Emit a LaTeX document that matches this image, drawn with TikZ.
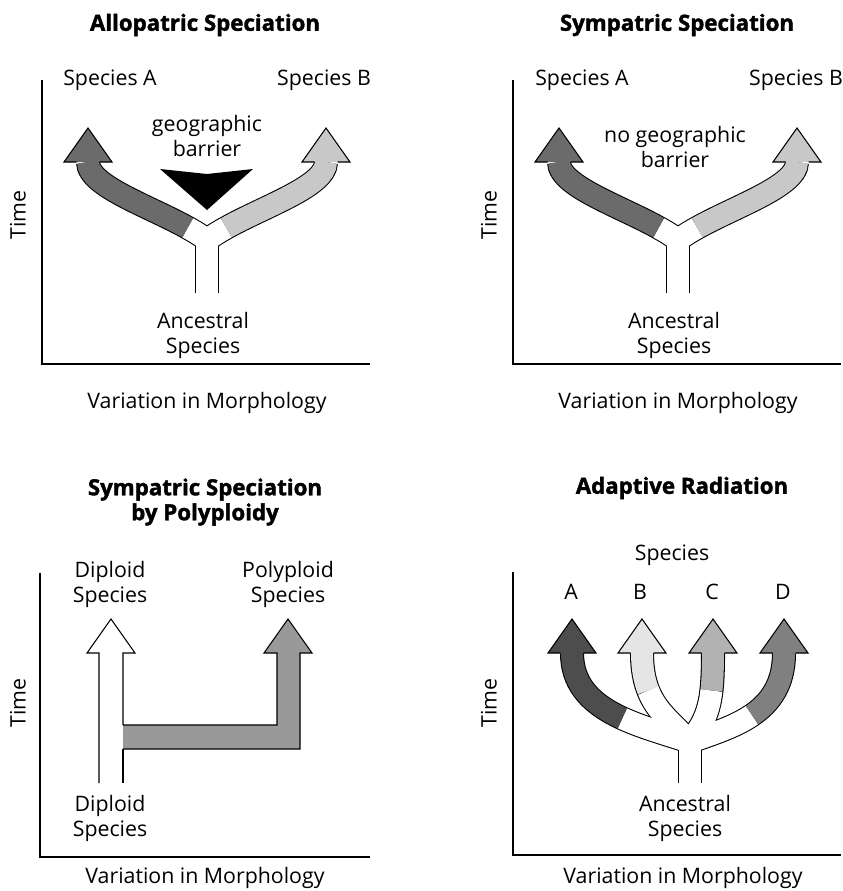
\documentclass[tikz,border=0pt]{standalone}
\usepackage{fontspec}
\setmainfont{Open Sans}
\newfontfamily\titlefont{Open Sans}[BoldFeatures={FakeBold=1.6}]
\usetikzlibrary{calc, positioning}

\definecolor{darkA}{HTML}{6B6B6B}
\definecolor{lightB}{HTML}{C8C8C8}
\definecolor{polyG}{HTML}{999999}
\definecolor{radA}{HTML}{4D4D4D}
\definecolor{radB}{HTML}{E5E5E5}
\definecolor{radC}{HTML}{B2B2B2}
\definecolor{radD}{HTML}{808080}

\tikzstyle{axis}  = [line width=0.9pt]
\tikzstyle{label} = [align=center, inner sep=0pt, font=\fontsize{18.2}{21.3}\selectfont]
\tikzstyle{title} = [align=center, inner sep=0pt, font=\titlefont\bfseries\fontsize{19}{21.3}\selectfont]
\tikzstyle{rim}   = [line width=0.69cm+0.9pt]
\tikzstyle{core}  = [line width=0.69cm-0.9pt, white]
\tikzstyle{head}  = [line width=0.9pt, line join=miter]

% white part up to t, coloured part after it
\newcommand{\splitcore}[6]{%
  \coordinate (q0) at ($(#1)!#5!(#2)$);
  \coordinate (q1) at ($(#2)!#5!(#3)$);
  \coordinate (q2) at ($(#3)!#5!(#4)$);
  \coordinate (r0) at ($(q0)!#5!(q1)$);
  \coordinate (r1) at ($(q1)!#5!(q2)$);
  \coordinate (s0) at ($(r0)!#5!(r1)$);
  \draw[core] (#1) .. controls (q0) and (r0) .. (s0);
  \draw[core, draw=#6] (s0) .. controls (r1) and (q2) .. (#4);
}
\newcommand{\arrowtop}[2]{\draw[head, fill=#2, shift={(#1)}] (-11.5,0) -- (-24,0) -- (0,-34) -- (24,0) -- (11.5,0);}

\begin{document}
\begin{tikzpicture}[x=0.03cm, y=-0.03cm]
\useasboundingbox (0,0) rectangle (843,891);

% ---- allopatric
\node[title] (T1) at (205,25) {Allopatric Speciation};
\coordinate (Y1) at (42,80);
\coordinate (O1) at (42,364);
\coordinate (X1) at (370,364);
\draw[axis] (Y1) -- (O1) -- (X1);
\node[label, rotate=90] (time1) at (18,215) {Time};
\node[label] (var1) at (207,403) {Variation in Morphology};
\node[label] (sa1) at (110,80) {Species A};
\node[label] (sb1) at (324,80) {Species B};
\node[label] (anc1) at (203,335) {Ancestral\\Species};
\node[label] (bar1) at (207,136) {geographic\\barrier};
\fill (160,169) -- (207,174) -- (253,169) -- (207,210) -- cycle;

\coordinate (t1) at (207,293);
\coordinate (j1) at (207,240);
\coordinate (la1) at (170,212);
\coordinate (lb1) at (88,190);
\coordinate (lc1) at (88,162);
\coordinate (ra1) at (244,212);
\coordinate (rb1) at (326,190);
\coordinate (rc1) at (326,162);

% ---- sympatric
\node[title] (T2) at (677,25) {Sympatric Speciation};
\coordinate (Y2) at (513,80);
\coordinate (O2) at (513,364);
\coordinate (X2) at (841,364);
\draw[axis] (Y2) -- (O2) -- (X2);
\node[label, rotate=90] (time2) at (489,215) {Time};
\node[label] (var2) at (678,403) {Variation in Morphology};
\node[label] (sa2) at (582,80) {Species A};
\node[label] (sb2) at (796,80) {Species B};
\node[label] (anc2) at (674,335) {Ancestral\\Species};
\node[label] (bar2) at (675,147) {no geographic\\barrier};

\coordinate (t2) at (678,293);
\coordinate (j2) at (678,240);
\coordinate (la2) at (641,212);
\coordinate (lb2) at (559,190);
\coordinate (lc2) at (559,162);
\coordinate (ra2) at (715,212);
\coordinate (rb2) at (797,190);
\coordinate (rc2) at (797,162);

% ---- polyploidy
\node[title] (T3) at (205,502) {Sympatric Speciation\\by Polyploidy};
\coordinate (Y3) at (40,573);
\coordinate (O3) at (40,857);
\coordinate (X3) at (370,857);
\draw[axis] (Y3) -- (O3) -- (X3);
\node[label, rotate=90] (time3) at (18,703) {Time};
\node[label] (var3) at (205,878) {Variation in Morphology};
\node[label] (dip3) at (110,584) {Diploid\\Species};
\node[label] (pol3) at (288,584) {Polyploid\\Species};
\node[label] (anc3) at (110,818) {Diploid\\Species};

\draw[head, fill=polyG] (123,725) -- (277,725) -- (277,653) -- (264,653) -- (288,619)
  -- (312,653) -- (300,653) -- (300,749) -- (123,749);
\draw[head] (99,783) -- (99,653) -- (87,653) -- (111,619) -- (135,653) -- (123,653) -- (123,725);
\draw[head] (123,749) -- (123,783);

% ---- adaptive radiation
\node[title] (T4) at (682,488) {Adaptive Radiation};
\coordinate (Y4) at (513,572);
\coordinate (O4) at (513,855);
\coordinate (X4) at (841,855);
\draw[axis] (Y4) -- (O4) -- (X4);
\node[label, rotate=90] (time4) at (489,703) {Time};
\node[label] (var4) at (683,878) {Variation in Morphology};
\node[label] (sp4) at (672,555) {Species};
\node[label] (A4) at (571,592) {A};
\node[label] (B4) at (640,592) {B};
\node[label] (C4) at (712,592) {C};
\node[label] (D4) at (783,592) {D};
\node[label] (anc4) at (685,818) {Ancestral\\Species};

\coordinate (t4) at (690,783);
\coordinate (j4) at (690,742);
\coordinate (a1) at (640,725);
\coordinate (a2) at (572,712);
\coordinate (a3) at (572,653);
\coordinate (b1) at (668,717);
\coordinate (b2) at (642,705);
\coordinate (b3) at (642,653);
\coordinate (c1) at (708,717);
\coordinate (c2) at (713,705);
\coordinate (c3) at (713,653);
\coordinate (d1) at (730,727);
\coordinate (d2) at (784,715);
\coordinate (d3) at (784,653);

% black rims first
\draw[rim] (t1) -- (j1);
\draw[rim] (j1) .. controls (la1) and (lb1) .. (lc1);
\draw[rim] (j1) .. controls (ra1) and (rb1) .. (rc1);
\draw[rim] (t2) -- (j2);
\draw[rim] (j2) .. controls (la2) and (lb2) .. (lc2);
\draw[rim] (j2) .. controls (ra2) and (rb2) .. (rc2);
\draw[rim] (t4) -- (j4);
\draw[rim] (j4) .. controls (a1) and (a2) .. (a3);
\draw[rim] (j4) .. controls (b1) and (b2) .. (b3);
\draw[rim] (j4) .. controls (c1) and (c2) .. (c3);
\draw[rim] (j4) .. controls (d1) and (d2) .. (d3);

% then the insides
\draw[core] ($(t1)+(0,1)$) -- (j1);
\splitcore{j1}{la1}{lb1}{lc1}{0.15}{darkA}
\splitcore{j1}{ra1}{rb1}{rc1}{0.15}{lightB}
\draw[core] ($(t2)+(0,1)$) -- (j2);
\splitcore{j2}{la2}{lb2}{lc2}{0.15}{darkA}
\splitcore{j2}{ra2}{rb2}{rc2}{0.15}{lightB}
\draw[core] ($(t4)+(0,1)$) -- (j4);
\splitcore{j4}{a1}{a2}{a3}{0.43}{radA}
\splitcore{j4}{b1}{b2}{b3}{0.7}{radB}
\splitcore{j4}{c1}{c2}{c3}{0.7}{radC}
\splitcore{j4}{d1}{d2}{d3}{0.5}{radD}

\arrowtop{lc1}{darkA}
\arrowtop{rc1}{lightB}
\arrowtop{lc2}{darkA}
\arrowtop{rc2}{lightB}
\arrowtop{a3}{radA}
\arrowtop{b3}{radB}
\arrowtop{c3}{radC}
\arrowtop{d3}{radD}

\end{tikzpicture}
\end{document}
